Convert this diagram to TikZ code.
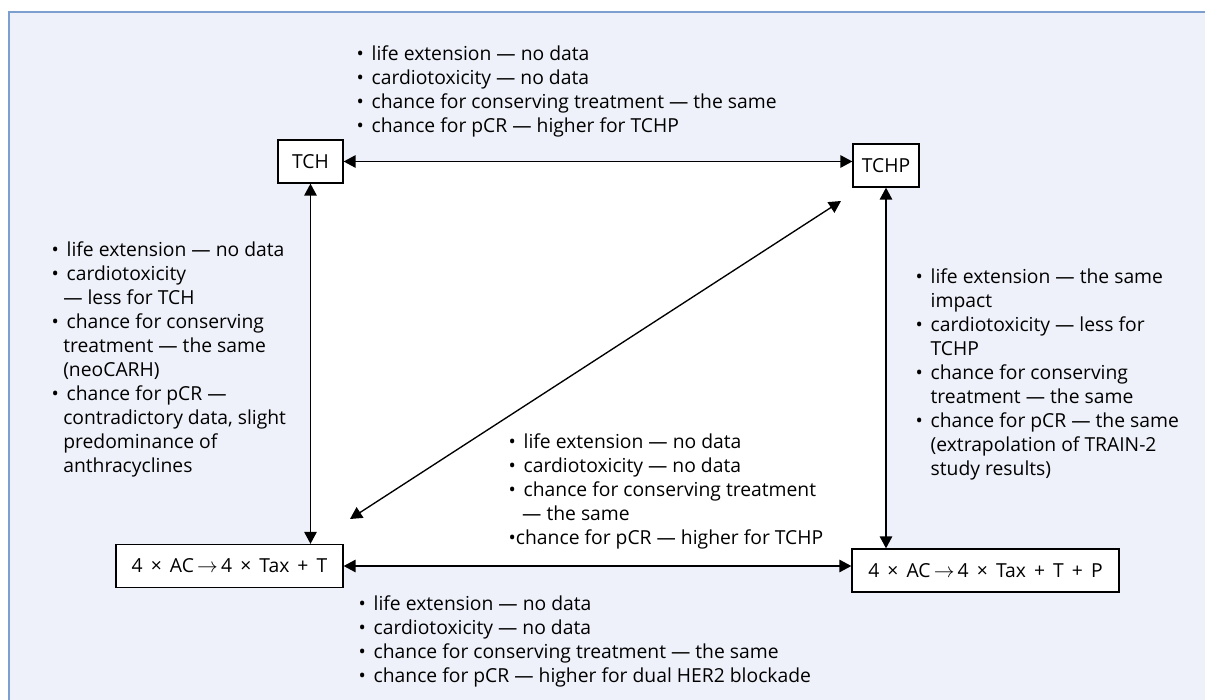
\documentclass[tikz,border=0pt]{standalone}
\usepackage{fontspec}
\setmainfont{Open Sans}
\usetikzlibrary{arrows.meta}
\definecolor{panelfill}{HTML}{EEF1F9}
\definecolor{panelrule}{HTML}{7C9FCF}
% bullet items and hanging indents for wrapped lines
\newcommand{\itm}{•\hspace{0.4em}}
\newcommand{\hangfull}{\phantom{•}\hspace*{0.4em}}
\newcommand{\hangshort}[1]{\hspace*{#1}}
% spacing inside the regimen formulas
\newcommand{\gap}{\hspace{0.42em}}
\begin{document}
\begin{tikzpicture}[x=1pt,y=-1pt,
  every node/.style={font=\fontsize{19.3}{24}\selectfont},
  drug/.style={draw=black,line width=1.3pt,fill=white,inner sep=0pt,minimum height=43pt},
  notes/.style={align=left,anchor=north west,inner sep=0pt},
  link/.style={line width=1.35pt,{Triangle[length=12pt,width=12.5pt]}-{Triangle[length=12pt,width=12.5pt]}}]
\useasboundingbox (0,0) rectangle (1205,700);
\clip (0,0) rectangle (1205,700);
\fill[white] (0,0) rectangle (1205,700);
% tinted panel, running off the right and bottom edges
\draw[panelrule,fill=panelfill,line width=1.5pt] (9,12) rectangle (1240,740);
% white square enclosed by the four arrows
\coordinate (sqNW) at (310.5,161.5);
\coordinate (sqSE) at (886,566);
\fill[white] (sqNW) rectangle (sqSE);

% regimens
\node[drug,minimum width=65pt] (tch) at (310.5,161.5) {TCH};
\node[drug,minimum width=66pt] (tchp) at (886,165.5) {TCHP};
\node[drug,minimum width=227pt] (acT) at (229.5,566) {4\gap×\gap AC\,$\rightarrow$\,4\gap×\gap Tax\gap+\gap T};
\node[drug,minimum width=267pt] (acTP) at (985.5,570.5) {4\gap×\gap AC\,$\rightarrow$\,4\gap×\gap Tax\gap+\gap T\gap+\gap P};

% comparisons
\draw[link] (tch.east) -- (tch.east -| tchp.west);
\draw[link] (tch.south) -- (tch.south |- acT.north);
\draw[link] (tchp.south) -- (tchp.south |- acTP.north);
\draw[link] (acT.east) -- (acT.east -| acTP.west);
\coordinate (diagA) at (350,519);
\coordinate (diagB) at (841,201);
\draw[link] (diagA) -- (diagB);

% comparison notes
\node[notes] (noteTop) at (356.5,45.8) {\itm life extension — no data\\\itm cardiotoxicity — no data\\\itm chance for conserving treatment — the same\\\itm chance for pCR — higher for TCHP};
\node[notes] (noteLeft) at (51.5,241.8) {\itm life extension — no data\\\itm cardiotoxicity\\\hangshort{0.6em}— less for TCH\\\itm chance for conserving\\\hangshort{0.6em}treatment — the same\\\hangshort{0.6em}(neoCARH)\\\itm chance for pCR —\\\hangshort{0.6em}contradictory data, slight\\\hangshort{0.6em}predominance of\\\hangshort{0.6em}anthracyclines};
\node[notes] (noteRight) at (915.5,268.8) {\itm life extension — the same\\\hangfull impact\\\itm cardiotoxicity — less for\\\hangfull TCHP\\\itm chance for conserving\\\hangfull treatment — the same\\\itm chance for pCR — the same\\\hangfull (extrapolation of TRAIN-2\\\hangfull study results)};
\node[notes] (noteMid) at (508.5,433.8) {\itm life extension — no data\\\itm cardiotoxicity — no data\\\itm chance for conserving treatment\\\hangshort{0.7em}— the same\\•chance for pCR — higher for TCHP};
\node[notes] (noteBottom) at (358.5,595.8) {\itm life extension — no data\\\itm cardiotoxicity — no data\\\itm chance for conserving treatment — the same\\\itm chance for pCR — higher for dual HER2 blockade};
\end{tikzpicture}
\end{document}
